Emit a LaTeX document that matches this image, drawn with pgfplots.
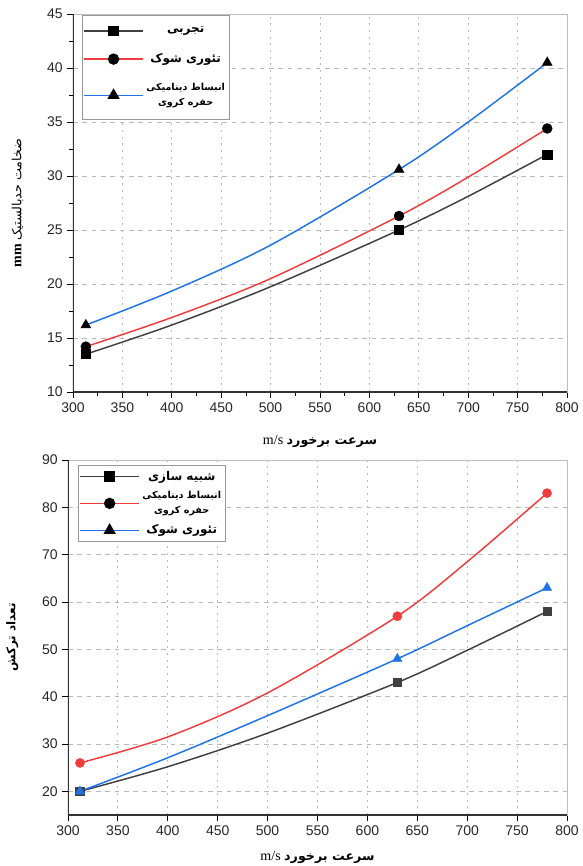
\documentclass[border=0pt]{standalone}
\usepackage{fontspec}
\usepackage{pgfplots}
\pgfplotsset{compat=1.18}
\setmainfont{Liberation Serif}
\setsansfont{Liberation Sans}
\newfontfamily\pfont[Script=Arabic]{DejaVu Sans}
\TeXXeTstate=1
\definecolor{cblk}{RGB}{64,64,64}
\definecolor{cred}{RGB}{240,60,60}
\definecolor{cblue}{RGB}{30,115,232}
\definecolor{gridc}{RGB}{185,185,185}
\definecolor{framec}{RGB}{190,190,190}
\pgfplotsset{
  myaxis/.style={
    scale only axis,
    axis line style={framec, line width=0.6pt},
    tick style={black, line width=0.6pt},
    tick align=outside,
    xtick pos=bottom, ytick pos=left,
    grid=major,
    x grid style={gridc, line width=0.6pt, dash pattern=on 1.5pt off 3.5pt},
    y grid style={gridc, line width=0.6pt, dash pattern=on 3.5pt off 3.5pt},
    tick label style={font=\sffamily\fontsize{10.5}{12}\selectfont, text=black!85},
    /pgf/number format/assume math mode=true,
    xmin=300, xmax=800, xtick={300,350,...,800},
    legend cell align=center,
    legend style={draw=gray!80, fill=white, inner xsep=1pt,
      font=\pfont\bfseries\fontsize{9}{11}\selectfont, cells={align=center}},
    legend image code/.code={\draw[line width=1.1pt,mark repeat=2,mark phase=2,#1] plot coordinates {(0pt,0pt) (22pt,0pt) (44pt,0pt)};},
  },
  ln/.style={line width=1.1pt, smooth, no marks, forget plot},
}
\begin{document}
\begin{tikzpicture}
\path[use as bounding box] (0,0) rectangle (436.5pt,-649.5pt);
% ---------- top ----------
\begin{axis}[myaxis,
  at={(54.75pt,-294pt)}, anchor=south west,
  width=370.5pt, height=283.5pt,
  ymin=10, ymax=45, ytick={10,15,...,45},
  minor x tick num=1, minor y tick num=1,
  legend style={at={(0.018,0.998)}, anchor=north west, row sep=10pt, inner ysep=7pt},
  xlabel={\fontsize{10.5}{12}\selectfont m/s {\pfont\bfseries\fontsize{9.5}{12}\selectfont\beginR سرعت برخورد\endR}},
  ylabel={\fontsize{10.5}{12}\selectfont\textbf{mm} {\pfont\fontsize{9.5}{12}\selectfont\beginR ضخامت حدبالستیک\endR}},
  xlabel style={yshift=-10pt},
  ylabel style={yshift=11pt},
]
% lines
\addplot[ln, cblk] coordinates {(313,13.5) (400,16.2) (500,19.75) (630,25.0) (700,28.12) (780,32.0)};
\addplot[ln, cred] coordinates {(313,14.2) (400,16.9) (500,20.5) (630,26.3) (700,29.9) (780,34.4)};
\addplot[ln, cblue] coordinates {(313,16.2) (400,19.35) (500,23.6) (630,30.6) (700,35.0) (780,40.5)};
% legend
\addlegendimage{cblk, mark=square*, mark size=3.4pt, mark options={black, fill=black}}
\addlegendentry{\beginR تجربی\endR}
\addlegendimage{cred, mark=*, mark size=3.7pt, mark options={black, fill=black}}
\addlegendentry{\beginR تئوری شوک\endR}
\addlegendimage{cblue, mark=triangle*, mark size=4.2pt, mark options={black, fill=black}}
\addlegendentry{\fontsize{7.2}{9.5}\selectfont\beginR انبساط دینامیکی\endR\\\fontsize{7.2}{9.5}\selectfont\beginR حفره کروی\endR}
% markers (data)
\addplot[only marks, mark=square*, mark size=3.4pt, black, forget plot] coordinates {(313,13.5) (630,25.0) (780,32.0)};
\addplot[only marks, mark=*, mark size=3.7pt, black, forget plot] coordinates {(313,14.2) (630,26.3) (780,34.4)};
\addplot[only marks, mark=triangle*, mark size=4.2pt, black, forget plot] coordinates {(313,16.2) (630,30.6) (780,40.5)};
\draw[black!80, line width=0.8pt] (rel axis cs:0,1) -- (rel axis cs:0,0) -- (rel axis cs:1,0);
\end{axis}
% ---------- bottom ----------
\begin{axis}[myaxis,
  at={(51pt,-611.25pt)}, anchor=south west,
  width=374.25pt, height=266.25pt,
  ymin=15, ymax=90, ytick={20,30,...,90},
  legend style={at={(0.02,0.985)}, anchor=north west, row sep=3pt},
  xlabel={\fontsize{10.5}{12}\selectfont m/s {\pfont\bfseries\fontsize{9.5}{12}\selectfont\beginR سرعت برخورد\endR}},
  ylabel={{\pfont\bfseries\fontsize{9}{12}\selectfont\beginR تعداد ترکش\endR}},
  xlabel style={yshift=-5pt},
  ylabel style={yshift=11pt},
]
\addlegendimage{cblk, mark=square*, mark size=3.4pt, mark options={black, fill=black}}
\addlegendentry{\beginR شبیه سازی\endR}
\addlegendimage{cred, mark=*, mark size=3.7pt, mark options={black, fill=black}}
\addlegendentry{\fontsize{7.2}{9.5}\selectfont\beginR انبساط دینامیکی\endR\\\fontsize{7.2}{9.5}\selectfont\beginR حفره کروی\endR}
\addlegendimage{cblue, mark=triangle*, mark size=4.2pt, mark options={black, fill=black}}
\addlegendentry{\beginR تئوری شوک\endR}
% lines
\addplot[ln, cblk] coordinates {(312,20) (400,25.2) (500,32.3) (630,43) (700,49.8) (780,58)};
\addplot[ln, cred] coordinates {(312,26) (400,31.5) (500,40.8) (630,57) (700,68.5) (780,83)};
\addplot[ln, cblue] coordinates {(312,20) (400,27.1) (500,36.0) (630,48) (700,55.0) (780,63)};
% markers (data)
\addplot[only marks, mark=square*, mark size=3.2pt, cblk, forget plot] coordinates {(312,20) (630,43) (780,58)};
\addplot[only marks, mark=*, mark size=3.4pt, cred, forget plot] coordinates {(312,26) (630,57) (780,83)};
\addplot[only marks, mark=triangle*, mark size=4pt, cblue, forget plot] coordinates {(312,20) (630,48) (780,63)};
\draw[black!80, line width=0.8pt] (rel axis cs:0,1) -- (rel axis cs:0,0) -- (rel axis cs:1,0);
\end{axis}
\end{tikzpicture}
\end{document}
